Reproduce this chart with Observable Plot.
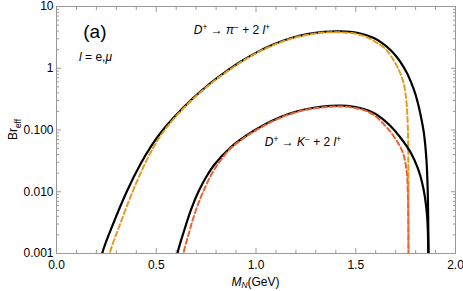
<!DOCTYPE html>
<html><head><meta charset="utf-8">
<script src="https://cdn.jsdelivr.net/npm/d3@7"></script>
<script src="https://cdn.jsdelivr.net/npm/@observablehq/plot@0.6"></script>
<style>html,body{margin:0;padding:0;background:#fff} #chart svg{display:block}</style>
</head><body><div id="chart"></div>
<script>
// ---- data ----
// D+ -> pi- + 2 l+, l = e (black solid)
const piE_M  = [0.2270,0.2291,0.2907,0.3559,0.4211,0.4762,0.5313,0.5880,0.6717,0.7554,0.8386,0.9223,1.0060,1.0892,1.1729,1.2566,1.3398,1.4236,1.5073,1.5905,1.6326,1.6742,1.6992,1.7243,1.7579,1.7910,1.8080,1.8246,1.8411,1.8546,1.8607,1.8632,1.8647,1.8652];
const piE_BR = [0.0008,0.001,0.00342,0.01067,0.02814,0.0559,0.09815,0.1594,0.3004,0.5196,0.8314,1.272,1.826,2.443,3.055,3.573,3.89,3.97,3.76,3.09,2.56,1.98,1.61,1.26,0.822,0.453,0.301,0.178,0.0912,0.0321,0.0105,0.00342,0.001,0.0006];
// D+ -> pi- + 2 l+, l = mu (orange dashed)
const piMu_M  = [0.2660,0.2672,0.3208,0.3759,0.4311,0.4812,0.5313,0.5880,0.6717,0.7554,0.8386,0.9223,1.0060,1.0892,1.1729,1.2566,1.3398,1.4236,1.5073,1.5574,1.5990,1.6406,1.6657,1.6907,1.7093,1.7243,1.7393,1.7494,1.7569,1.7609,1.7629,1.7639,1.7644,1.7646];
const piMu_BR = [0.0008,0.001,0.003118,0.009027,0.02335,0.04925,0.08942,0.1518,0.2916,0.5064,0.813,1.244,1.786,2.388,2.988,3.482,3.779,3.821,3.573,3.171,2.66,2.17,1.77,1.336,1.047,0.813,0.587,0.390,0.223,0.118,0.0561,0.00721,0.001,0.0006];
// D+ -> K- + 2 l+, l = e (black solid)
const kE_M  = [0.6050,0.6065,0.6416,0.6767,0.7118,0.7519,0.7920,0.8722,0.9559,1.0391,1.1228,1.2065,1.2897,1.3734,1.4571,1.5404,1.5905,1.6326,1.6742,1.7158,1.7579,1.7830,1.8080,1.8246,1.8411,1.8511,1.8581,1.8617,1.8637,1.8647];
const kE_BR = [0.0008,0.001,0.00245,0.00536,0.0101,0.01766,0.0276,0.0521,0.0830,0.1205,0.1625,0.2014,0.229,0.245,0.245,0.2188,0.188,0.1535,0.116,0.0815,0.0531,0.0386,0.0256,0.01766,0.0105,0.00646,0.00383,0.00219,0.001,0.0006];
// D+ -> K- + 2 l+, l = mu (red dashed)
const kMu_M  = [0.6350,0.6366,0.6617,0.6867,0.7168,0.7469,0.7820,0.8221,0.8722,0.9559,1.0391,1.1228,1.2065,1.2897,1.3734,1.4571,1.5404,1.5905,1.6326,1.6742,1.6992,1.7243,1.7393,1.7494,1.7559,1.7594,1.7619,1.7634,1.7644,1.7646];
const kMu_BR = [0.0008,0.001,0.00203,0.00383,0.00721,0.01216,0.0205,0.0321,0.0502,0.0805,0.1169,0.158,0.1963,0.2228,0.2375,0.237,0.210,0.175,0.132,0.0929,0.0714,0.0526,0.0401,0.0286,0.0205,0.01413,0.00721,0.00284,0.001,0.0006];

const xTicks = [0, 0.5, 1, 1.5, 2];
const xTickLabels = ["0.0", "0.5", "1.0", "1.5", "2.0"];
const yTicks = [0.001, 0.01, 0.1, 1, 10];
const yTickLabels = ["0.001", "0.010", "0.100", "1", "10"];

// annotation anchors (data coordinates)
const annotM  = [0.195, 0.198, 0.882, 1.238];
const annotBR = [3.9, 1.5, 4.1, 0.063];

// ---- build ----
const FONT = "'Liberation Sans', Arial, Helvetica, sans-serif";
const GRAY = "#9a9a9a";
const toRows = (M, B) => M.map((m, i) => ({M: m, BR: B[i]}));
const piE = toRows(piE_M, piE_BR), piMu = toRows(piMu_M, piMu_BR);
const kE = toRows(kE_M, kE_BR), kMu = toRows(kMu_M, kMu_BR);

const xMinor = d3.range(0, 21).map(i => i / 10).filter(v => !xTicks.includes(v));
const yMinor = [];
for (const d of [0.001, 0.01, 0.1, 1]) for (let k = 2; k <= 9; k++) yMinor.push(+(d * k).toPrecision(3));

const blank = () => "";
const labelOf = (ticks, labels) => d => {
  const i = ticks.findIndex(v => Math.abs(v - d) <= Math.abs(v) * 1e-6 + 1e-12);
  return i < 0 ? "" : labels[i];
};
const plot = Plot.plot({
  width: 463, height: 291,
  marginLeft: 56, marginRight: 8, marginTop: 6, marginBottom: 38,
  style: {fontFamily: FONT, fontSize: "12px", color: "black", background: "white", overflow: "visible"},
  x: {domain: [0, 2]},
  y: {type: "log", domain: [0.001, 10]},
  marks: [
    // inward ticks on all four sides
    Plot.axisX(xTicks, {anchor: "bottom", tickSize: -5, stroke: GRAY, tickFormat: blank, label: null}),
    Plot.axisX(xMinor, {anchor: "bottom", tickSize: -3, stroke: GRAY, tickFormat: blank, label: null}),
    Plot.axisX(xTicks, {anchor: "top", tickSize: -5, stroke: GRAY, tickFormat: blank, label: null}),
    Plot.axisX(xMinor, {anchor: "top", tickSize: -3, stroke: GRAY, tickFormat: blank, label: null}),
    Plot.axisY(yTicks, {anchor: "left", tickSize: -5, stroke: GRAY, tickFormat: blank, label: null}),
    Plot.axisY(yMinor, {anchor: "left", tickSize: -3, stroke: GRAY, tickFormat: blank, label: null}),
    Plot.axisY(yTicks, {anchor: "right", tickSize: -5, stroke: GRAY, tickFormat: blank, label: null}),
    Plot.axisY(yMinor, {anchor: "right", tickSize: -3, stroke: GRAY, tickFormat: blank, label: null}),
    // tick labels
    Plot.axisX(xTicks, {anchor: "bottom", tickSize: 0, tickPadding: 7, tickFormat: labelOf(xTicks, xTickLabels), label: null, fill: "black"}),
    Plot.axisY(yTicks, {anchor: "left", tickSize: 0, tickPadding: 3, tickFormat: labelOf(yTicks, yTickLabels), label: null, fill: "black"}),
    Plot.frame({stroke: GRAY, strokeWidth: 1}),
    // curves
    Plot.line(piE, {x: "M", y: "BR", stroke: "black", strokeWidth: 2.2, curve: "catmull-rom", clip: true}),
    Plot.line(piMu, {x: "M", y: "BR", stroke: "#E19C24", strokeWidth: 2, strokeDasharray: "5,3", curve: "catmull-rom", clip: true}),
    Plot.line(kE, {x: "M", y: "BR", stroke: "black", strokeWidth: 2.2, curve: "catmull-rom", clip: true}),
    Plot.line(kMu, {x: "M", y: "BR", stroke: "#EB6235", strokeWidth: 2, strokeDasharray: "5,3", curve: "catmull-rom", clip: true})
  ]
});
document.getElementById("chart").appendChild(plot);

// ---- rich text labels, placed through Plot's scales ----
const svg = d3.select(plot);
const sx = plot.scale("x"), sy = plot.scale("y");
function rich(x, y, parts, size, anchor = "middle", rotate = null, subShift = 0.3) {
  const t = svg.append("text").attr("text-anchor", anchor)
    .attr("font-size", size).attr("fill", "black").attr("font-family", FONT);
  if (rotate !== null) t.attr("transform", `translate(${x},${y}) rotate(${rotate})`);
  else t.attr("x", x).attr("y", y);
  let shift = 0;
  for (const [s, st = ""] of parts) {
    const target = st.includes("sup") ? -0.38 * size : st.includes("sub") ? subShift * size : 0;
    const ts = t.append("tspan").text(s).attr("dy", target - shift);
    shift = target;
    if (st.includes("sup") || st.includes("sub")) ts.attr("font-size", size * 0.7);
    if (st.includes("i")) ts.attr("font-style", "italic");
  }
  return t;
}
const base = (BR, size) => sy.apply(BR) + 0.35 * size;
rich(sx.apply(annotM[0]), base(annotBR[0], 19), [["(a)"]], 19);
rich(sx.apply(annotM[1]), base(annotBR[1], 12), [["l", "i"], [" = e,"], ["μ", "i"]], 12);
rich(sx.apply(annotM[2]), base(annotBR[2], 12), [["D", "i"], ["+", "sup"], [" → "], ["π", "i"], ["−", "sup"], [" + 2 "], ["l", "i"], ["+", "sup"]], 12);
rich(sx.apply(annotM[3]), base(annotBR[3], 12), [["D", "i"], ["+", "sup"], [" → "], ["K", "i"], ["−", "sup"], [" + 2 "], ["l", "i"], ["+", "sup"]], 12);
// axis titles
rich((sx.apply(0) + sx.apply(2)) / 2, 285.5, [["M", "i"], ["N", "i sub"], ["(GeV)"]], 12, "middle", null, 0.2);
rich(17, (sy.apply(0.001) + sy.apply(10)) / 2, [["Br"], ["eff", "sub"]], 12, "middle", -90);
</script>
</body></html>
